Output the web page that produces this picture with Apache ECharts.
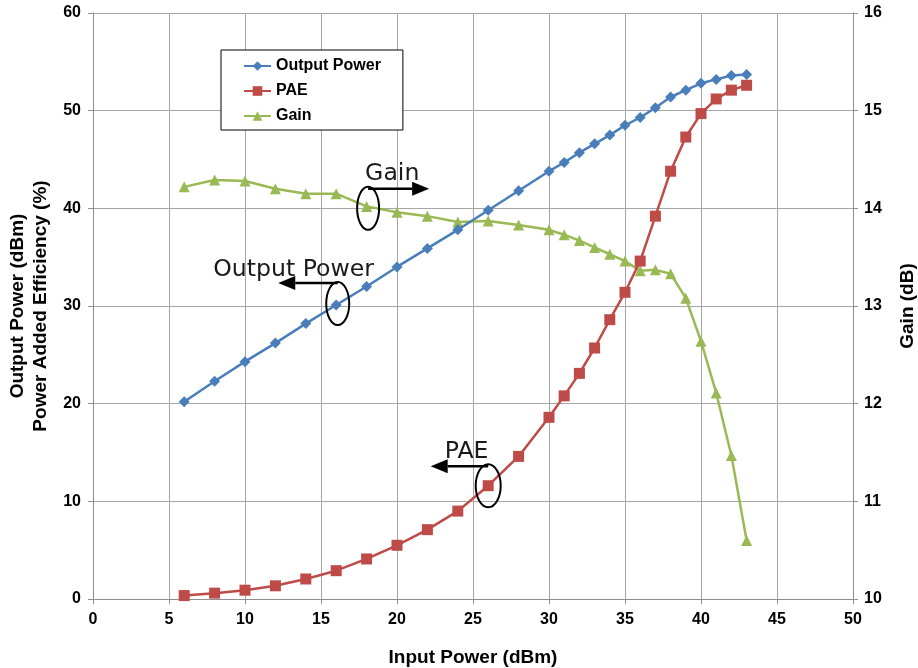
<!DOCTYPE html>
<html>
<head>
<meta charset="utf-8">
<script src="https://cdn.jsdelivr.net/npm/echarts@6/dist/echarts.min.js"></script>
<style>
html,body{margin:0;padding:0;background:#fff;}
#main{width:918px;height:668px;}
</style>
</head>
<body>
<div id="main"></div>
<script>
const inputPower = [6,8,10,12,14,16,18,20,22,24,26,28,30,31,32,33,34,35,36,37,38,39,40,41,42,43];
const outputPower = [20.2,22.3,24.3,26.2,28.2,30.1,32.0,34.0,35.9,37.8,39.8,41.8,43.8,44.7,45.7,46.6,47.5,48.5,49.3,50.3,51.4,52.1,52.8,53.2,53.6,53.7];
const pae = [0.35,0.6,0.9,1.35,2.05,2.9,4.1,5.5,7.1,9.0,11.6,14.6,18.6,20.8,23.1,25.7,28.6,31.4,34.6,39.2,43.8,47.3,49.7,51.2,52.1,52.6];
const gain = [14.22,14.29,14.28,14.2,14.15,14.15,14.02,13.96,13.92,13.86,13.87,13.83,13.78,13.73,13.67,13.6,13.53,13.46,13.36,13.37,13.33,13.08,12.64,12.11,11.47,10.6];
const xTicks = {min:0, max:50, interval:5};
const leftTicks = {min:0, max:60, interval:10};
const rightTicks = {min:10, max:16, interval:1};

const chart = echarts.init(document.getElementById('main'));
const pair = (ys) => inputPower.map((x,i)=>[x, ys[i]]);
const lblFont = {fontFamily:'Liberation Sans, Arial, sans-serif', fontWeight:'bold', fontSize:16, color:'#000'};
const nameFont = {fontFamily:'Liberation Sans, Arial, sans-serif', fontWeight:'bold', fontSize:19, color:'#000', lineHeight:23};
const gridColor = '#8f8f8f';

chart.setOption({
  animation:false,
  backgroundColor:'#fff',
  grid:{left:93, right:65, top:13, bottom:69, containLabel:false, outerBoundsMode:'none'},
  legend:{
    orient:'vertical', left:221, top:50,
    padding:[8,22,6,22], itemGap:9, itemWidth:27, itemHeight:12,
    backgroundColor:'#fff', borderColor:'#000', borderWidth:1,
    textStyle:Object.assign({}, lblFont, {fontSize:16}),
    data:['Output Power','PAE','Gain']
  },
  xAxis:{
    type:'value', min:xTicks.min, max:xTicks.max, interval:xTicks.interval,
    name:'Input Power (dBm)', nameLocation:'middle', nameGap:47, nameTextStyle:nameFont,
    axisLine:{show:true, lineStyle:{color:gridColor, width:1}},
    axisTick:{show:true, length:5, lineStyle:{color:gridColor}},
    axisLabel:Object.assign({margin:13}, lblFont),
    splitLine:{show:true, lineStyle:{color:'#a6a6a6', width:1}}
  },
  yAxis:[{
    type:'value', min:leftTicks.min, max:leftTicks.max, interval:leftTicks.interval,
    name:'Output Power (dBm)\nPower Added Efficiency (%)', nameLocation:'middle', nameGap:40, nameTextStyle:nameFont,
    axisLine:{show:true, lineStyle:{color:gridColor, width:1}},
    axisTick:{show:true, length:5, lineStyle:{color:gridColor}},
    axisLabel:Object.assign({margin:12}, lblFont),
    splitLine:{show:true, lineStyle:{color:'#a6a6a6', width:1}}
  },{
    type:'value', position:'right', min:rightTicks.min, max:rightTicks.max, interval:rightTicks.interval,
    name:'Gain (dB)', nameLocation:'middle', nameGap:43, nameRotate:90, nameTextStyle:nameFont,
    axisLine:{show:true, lineStyle:{color:gridColor, width:1}},
    axisTick:{show:true, length:5, lineStyle:{color:gridColor}},
    axisLabel:Object.assign({margin:11}, lblFont),
    splitLine:{show:false}
  }],
  series:[{
    name:'Output Power', type:'line', yAxisIndex:0, data:pair(outputPower),
    symbol:'diamond', symbolSize:11, color:'#4a7ebb',
    lineStyle:{width:2.5, color:'#4a7ebb'}, itemStyle:{color:'#4a7ebb'}, z:3
  },{
    name:'PAE', type:'line', yAxisIndex:0, data:pair(pae),
    symbol:'rect', symbolSize:11, color:'#be4b48',
    lineStyle:{width:2.5, color:'#be4b48'}, itemStyle:{color:'#be4b48'}, z:3
  },{
    name:'Gain', type:'line', yAxisIndex:1, data:pair(gain),
    symbol:'triangle', symbolSize:11, color:'#98b954',
    lineStyle:{width:2.5, color:'#98b954'}, itemStyle:{color:'#98b954'}, z:2
  }]
});

// Annotations anchored to data coordinates (ellipse centres)
const annFont = '23.6px "DejaVu Sans", sans-serif';
function annotation(anchor, label, textDx, dir, arrowLen, lineY, ellRx){
  const p = chart.convertToPixel({gridIndex:0}, anchor);
  const cx = p[0], cy = p[1];
  const base = dir * (arrowLen - 17);
  const tip = dir * arrowLen;
  return [
    {type:'ellipse', shape:{cx:cx, cy:cy, rx:ellRx, ry:21.5}, style:{fill:'none', stroke:'#000', lineWidth:2}, z:10},
    {type:'line', shape:{x1:cx, y1:cy+lineY, x2:cx+base, y2:cy+lineY}, style:{stroke:'#000', lineWidth:2.5}, z:10},
    {type:'polygon', shape:{points:[[cx+base, cy+lineY-7],[cx+tip, cy+lineY],[cx+base, cy+lineY+7]]}, style:{fill:'#000'}, z:10},
    {type:'text', x:cx+textDx, y:cy-34, style:{text:label, font:annFont, fill:'#1a1a1a', verticalAlign:'middle', align:'left'}, z:10}
  ];
}
const graphics = [].concat(
  annotation([18.1, 40.0], 'Gain', -3, 1, 61, -19.5, 11),
  annotation([16.1, 30.25], 'Output Power', -124.5, -1, 59.5, -20.5, 11.5),
  annotation([26.0, 11.6], 'PAE', -43.5, -1, 57.5, -19.5, 12.5)
);
chart.setOption({graphic:graphics});
</script>
</body>
</html>
